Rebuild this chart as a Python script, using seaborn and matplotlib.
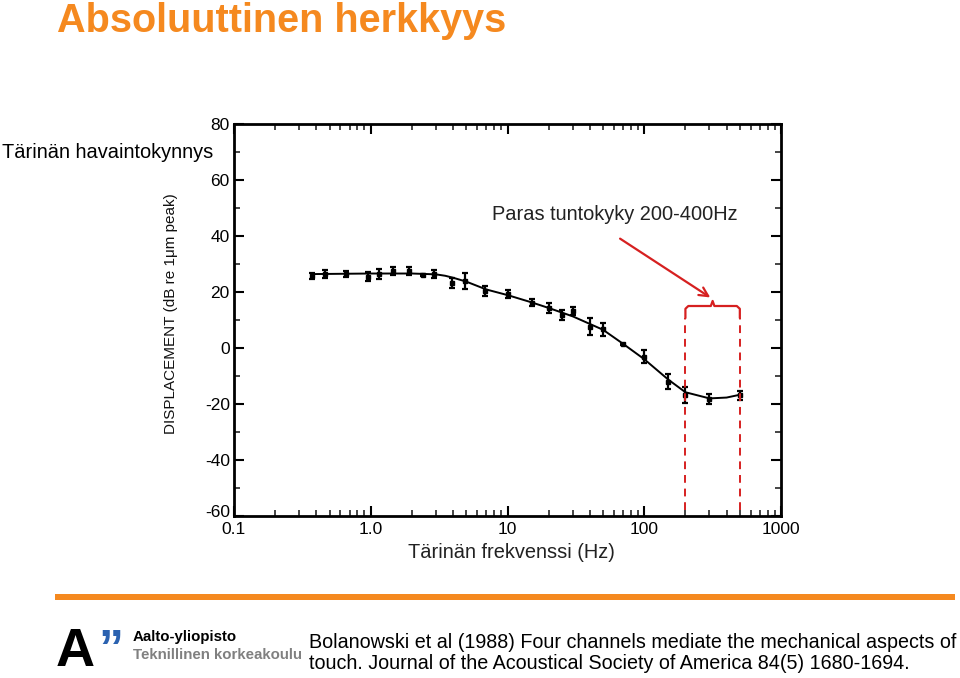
import matplotlib
matplotlib.use("Agg")
import matplotlib.pyplot as plt
from matplotlib.patches import Rectangle
import matplotlib.transforms as mtransforms
import seaborn as sns
import numpy as np

# ---------------- data ----------------
freq_hz = [0.37, 0.46, 0.66, 0.95, 1.15, 1.45, 1.9, 2.4, 2.9, 3.9, 4.9, 6.9, 10,
           15, 20, 25, 30, 40, 50, 70, 100, 150, 200, 300, 500]
thresh_db = [25.7, 26.4, 26.4, 25.5, 26.4, 27.6, 27.5, 26.1, 26.4, 23.2, 24.0, 20.5, 19.2,
             16.2, 14.2, 11.8, 13.2, 7.6, 6.7, 1.3, -3.1, -12.0, -16.8, -18.3, -16.8]
err_db = [1.2, 1.4, 1.2, 1.7, 1.7, 1.5, 1.5, 0.3, 1.4, 1.7, 2.8, 1.8, 1.4,
          1.2, 1.8, 1.9, 1.5, 3.0, 2.4, 0.3, 2.4, 2.8, 3.0, 1.8, 1.6]

fit_hz = [0.37, 1.0, 2.0, 3.0, 3.5, 4.0, 5.0, 7.0, 10, 15, 20, 30, 50, 70, 100, 150, 200, 300, 400, 500]
fit_db = [26.4, 26.6, 26.6, 26.3, 25.8, 25.1, 23.7, 20.9, 18.9, 16.3, 14.3, 11.3, 6.5, 1.5, -4.0,
          -11.3, -15.8, -18.0, -17.7, -16.7]

x_ticks = [0.1, 1, 10, 100, 1000]
x_ticklabels = ["0.1", "1.0", "10", "100", "1000"]
y_ticks = [80, 60, 40, 20, 0, -20, -40, -60]
y_ticklabels = ["80", "60", "40", "20", "0", "-20", "-40", "-60"]

band_hz = [200, 500]

title = "Absoluuttinen herkkyys"
ylabel = "DISPLACEMENT (dB re 1\u03bcm peak)"
xlabel = "Tärinän frekvenssi (Hz)"
side_label = "Tärinän havaintokynnys"
best_label = "Paras tuntokyky 200-400Hz"
citation = ("Bolanowski et al (1988) Four channels mediate the mechanical aspects of\n"
            "touch. Journal of the Acoustical Society of America 84(5) 1680-1694.")

# ---------------- style ----------------
sns.set_theme(style="ticks")
plt.rcParams['font.family'] = ['Liberation Sans', 'DejaVu Sans']

ORANGE = '#F5891F'
RED = '#D62020'

W, H = 960, 678
fig = plt.figure(figsize=(W / 100, H / 100), dpi=100)
fig.patch.set_facecolor('white')

def fx(x):
    return x / W

def fy(y):
    return 1 - y / H

ax = fig.add_axes([fx(234), fy(516), fx(781) - fx(234), fy(124) - fy(516)])
ax.set_xscale('log')
ax.set_xlim(0.1, 1000)
ax.set_ylim(-60, 80)

# fitted curve
sns.lineplot(x=fit_hz, y=fit_db, ax=ax, color='black', lw=1.4, sort=False)
# data points with error bars
ax.errorbar(freq_hz, thresh_db, yerr=err_db, fmt='s', ms=3, color='black',
            ecolor='black', elinewidth=1.6, capsize=2.5, capthick=1.6, zorder=3)

# axes styling
for s in ax.spines.values():
    s.set_linewidth(2)
    s.set_color('black')
    s.set_visible(True)
ax.set_xticks(x_ticks)
ax.set_xticklabels(x_ticklabels)
ax.set_yticks(y_ticks)
ax.set_yticklabels(y_ticklabels)
ax.set_yticks(np.arange(-50, 80, 20), minor=True)
ax.tick_params(which='major', direction='in', length=7, width=1.5, top=True, right=True,
               labelsize=12.5, pad=3, colors='black')
ax.tick_params(which='minor', direction='in', length=4, width=1.2, top=True, right=True)
ax.tick_params(axis='x', which='major', pad=4)
# lift the lowest y label a little so it clears the "0.1" label (as in the original)
lab = ax.get_yticklabels()[-1]
lab.set_transform(lab.get_transform() + mtransforms.ScaledTranslation(0, 5 / 100, fig.dpi_scale_trans))
ax.set_ylabel(ylabel, fontsize=11, color='#111111')
ax.yaxis.set_label_coords(-0.102, 0.515)
ax.grid(False)

# red band markers
y_top_line = 10.7
ax.vlines(band_hz, -58, y_top_line, colors=RED, linestyles=(0, (4, 3)), lw=1.4, zorder=4)
b_lo, b_hi = band_hz
b_mid = np.sqrt(b_lo * b_hi)
ax.plot([b_lo, b_lo, b_lo * 1.05, b_mid * 0.97, b_mid, b_mid * 1.03, b_hi * 0.95, b_hi, b_hi],
        [y_top_line, 14.0, 15.0, 15.0, 16.8, 15.0, 15.0, 14.0, y_top_line],
        color=RED, lw=1.6, zorder=4, solid_joinstyle='round')
ax.annotate('', xy=(b_mid, 17.5), xytext=(64, 39.6),
            arrowprops=dict(arrowstyle='->', color=RED, lw=1.6, mutation_scale=16))

# texts
fig.text(fx(57), fy(21), title, color=ORANGE, fontsize=28.5, fontweight='bold', va='center', ha='left')
fig.text(fx(2), fy(152), side_label, fontsize=14.4, va='center', ha='left', color='black')
fig.text(fx(738), fy(215), best_label, fontsize=14.4, va='center', ha='right', color='#222222')
fig.text(fx(511), fy(552), xlabel, fontsize=14.4, va='center', ha='center', color='#222222')

# orange bar
fig.add_artist(Rectangle((fx(55), fy(600)), fx(955) - fx(55), fy(594) - fy(600),
                         transform=fig.transFigure, color=ORANGE, lw=0))

# logo
fig.text(fx(56), fy(677.5), 'A', fontsize=39, fontweight='heavy', va='bottom', ha='left', color='black')
fig.text(fx(98), fy(652), '\u201d', fontsize=36, fontweight='bold', va='center', ha='left', color='#2B62B0')
fig.text(fx(133), fy(637), 'Aalto-yliopisto', fontsize=10.8, fontweight='bold', va='center', ha='left', color='black')
fig.text(fx(133), fy(655), 'Teknillinen korkeakoulu', fontsize=10.8, fontweight='bold', va='center', ha='left', color='#808080')

# citation
fig.text(fx(309), fy(653), citation, fontsize=14.2, va='center', ha='left', color='black', linespacing=1.15)

fig.savefig('out.png', dpi=100)
